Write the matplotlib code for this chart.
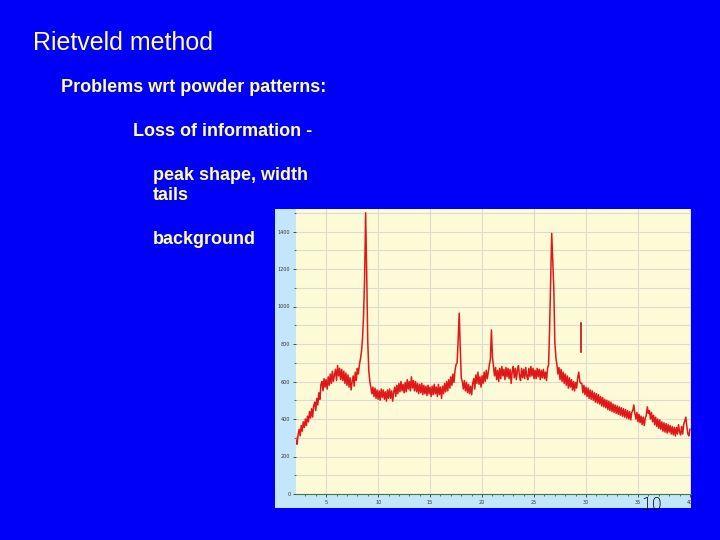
import matplotlib
matplotlib.use("Agg")
import matplotlib.pyplot as plt
from matplotlib.ticker import MultipleLocator
import numpy as np

# powder pattern, 2-theta step 0.1 from 2.0 to 40.0
two_theta_start, two_theta_step = 2.0, 0.1
counts = [
    330, 280, 265, 315, 345, 310,
    365, 335, 385, 355, 400,
    365, 415, 385, 440, 405,
    455, 410, 470, 490, 445,
    510, 475, 540, 505, 585,
    600, 550, 615, 570, 610,
    560, 625, 580, 640, 590,
    655, 600, 635, 665, 605,
    685, 630, 670, 610, 665,
    605, 655, 590, 645, 580,
    635, 570, 620, 555, 600,
    630, 575, 650, 605, 670,
    640, 690, 720, 760, 830,
    950, 1150, 1500, 1180, 820,
    660, 600, 570, 535, 570,
    520, 565, 510, 555, 505,
    550, 500, 560, 515, 555,
    505, 545, 495, 555, 510,
    560, 510, 550, 495, 545,
    570, 520, 580, 535, 590,
    545, 600, 550, 585, 540,
    595, 545, 610, 560, 600,
    550, 625, 565, 605, 550,
    600, 545, 590, 535, 585,
    540, 590, 530, 580, 535,
    575, 525, 580, 535, 570,
    520, 575, 530, 585, 535,
    570, 520, 585, 530, 570,
    510, 575, 535, 590, 545,
    600, 550, 610, 565, 625,
    580, 640, 595, 660, 690,
    700, 820, 965, 780, 620,
    600, 560, 605, 550, 595,
    540, 585, 535, 575, 530,
    590, 615, 560, 635, 590,
    650, 585, 625, 570, 630,
    590, 650, 600, 660, 615,
    650, 690, 720, 875, 730,
    680, 630, 675, 610, 660,
    600, 670, 615, 680, 630,
    665, 610, 675, 625, 670,
    615, 665, 590, 655, 680,
    620, 670, 610, 660, 685,
    630, 605, 670, 620, 665,
    615, 675, 630, 610, 670,
    625, 680, 630, 670, 615,
    660, 615, 670, 625, 665,
    610, 660, 620, 665, 615,
    650, 605, 670, 690, 890,
    1150, 1390, 1250, 1100, 810,
    730, 690, 640, 675, 610,
    665, 600, 650, 590, 640,
    580, 630, 565, 620, 570,
    610, 555, 600, 550, 595,
    565, 620, 650, 600, 590,
    590, 540, 580, 530, 570,
    520, 565, 510, 555, 505,
    550, 500, 540, 490, 535,
    485, 530, 480, 520, 470,
    515, 465, 505, 460, 500,
    450, 495, 445, 490, 440,
    480, 435, 475, 430, 470,
    425, 465, 420, 460, 415,
    455, 410, 450, 405, 445,
    400, 440, 395, 435, 445,
    475, 430, 400, 435, 385,
    425, 380, 415, 370, 410,
    365, 405, 420, 465, 430,
    445, 400, 435, 385, 420,
    370, 410, 360, 400, 350,
    395, 345, 385, 335, 380,
    330, 375, 325, 370, 330,
    365, 320, 360, 315, 355,
    310, 355, 320, 370, 330,
    315, 360, 320, 370, 390,
    410, 360, 320, 310, 345,
]
# loose fragment near 29.5 degrees
spike_theta = [29.5, 29.5]
spike_counts = [760, 910]

slide_title = "Rietveld method"
bullets = [
    ("Problems wrt powder patterns:", 61, 88),
    ("Loss of information -", 133, 131),
    ("peak shape, width", 153, 175),
    ("tails", 153, 196),
    ("background", 153, 240),
]

two_theta = two_theta_start + two_theta_step * np.arange(len(counts))

W, H = 720, 540
fig = plt.figure(figsize=(7.2, 5.4), dpi=100)
fig.patch.set_facecolor("#0000f8")

# light blue frame behind the chart
frame = fig.add_axes([275 / W, 1 - 508 / H, (691 - 275) / W, (508 - 209) / H], zorder=0)
frame.set_facecolor("#c4e6fa")
frame.set_xticks([])
frame.set_yticks([])
for s in frame.spines.values():
    s.set_visible(False)

ax = fig.add_axes([296 / W, 1 - 494 / H, (691 - 296) / W, (494 - 209) / H], zorder=1)
ax.set_facecolor("#fdfad8")
ax.plot(two_theta, counts, color="#e01818", lw=1.1)
ax.plot(spike_theta, spike_counts, color="#c01010", lw=1.2)
ax.set_xlim(2.1, 40.1)
ax.set_ylim(0, 1520)
ax.xaxis.set_major_locator(MultipleLocator(5))
ax.xaxis.set_minor_locator(MultipleLocator(1))
ax.yaxis.set_major_locator(MultipleLocator(200))
ax.yaxis.set_minor_locator(MultipleLocator(100))
ax.grid(True, axis="x", which="major", color="#dcdccc", lw=0.8)
ax.grid(True, axis="y", which="both", color="#dcdccc", lw=0.8)
ax.set_axisbelow(True)
for s in ["top", "right", "left"]:
    ax.spines[s].set_visible(False)
ax.spines["bottom"].set_color("#3a7a3a")
ax.tick_params(labelsize=3.5, length=2, width=0.6, colors="#333333", pad=2)
ax.tick_params(which="minor", length=1.5, width=0.5, colors="#333333")

fig.text(33 / W, 1 - 43 / H, slide_title, color="#ffff99", fontsize=18,
         family="Liberation Sans", va="center", ha="left")
for txt, px, py in bullets:
    fig.text(px / W, 1 - py / H, txt, color="#ffff99", fontsize=13,
             fontweight="bold", family="Liberation Sans", va="center", ha="left")

fig.text(652 / W, 1 - 505 / H, "10", color="black", fontsize=12,
         family="DejaVu Sans", va="center", ha="center", fontweight="light",
         zorder=5)

fig.savefig("out.png", dpi=100, facecolor=fig.get_facecolor())
